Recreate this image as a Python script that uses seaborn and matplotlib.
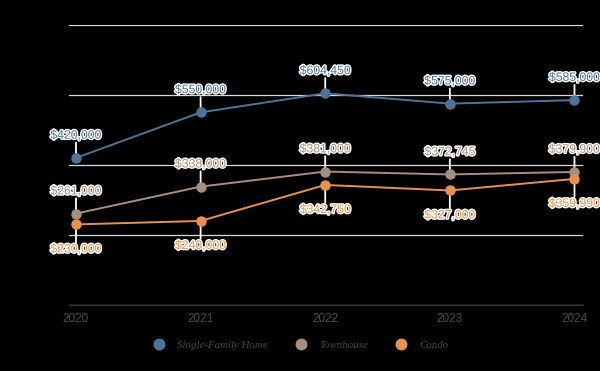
import matplotlib
matplotlib.use("Agg")
import matplotlib.pyplot as plt
import matplotlib.patheffects as pe
import seaborn as sns
import pandas as pd

years = ["2020", "2021", "2022", "2023", "2024"]
single_family = [420000, 550000, 604450, 575000, 585000]
townhouse = [261000, 338000, 381000, 372745, 379900]
condo = [230000, 240000, 342750, 327000, 359990]
series_names = ["Single-Family Home", "Townhouse", "Condo"]
colors = ["#4f7396", "#a68f7f", "#e8914f"]

rows = []
for name, vals in zip(series_names, [single_family, townhouse, condo]):
    for i, (y, v) in enumerate(zip(years, vals)):
        rows.append({"idx": i, "year": y, "value": v, "series": name})
df = pd.DataFrame(rows)

sns.set_theme(style="white")
plt.rcParams["font.family"] = ["Liberation Sans", "DejaVu Sans"]

fig = plt.figure(figsize=(6, 3.71), dpi=100, facecolor="black")
ax = fig.add_axes([0.115, 0.178, 0.857, 0.755])
ax.set_facecolor("black")

palette = dict(zip(series_names, colors))
sns.lineplot(data=df, x="idx", y="value", hue="series", palette=palette,
             marker="o", markersize=7.5, markeredgewidth=0, linewidth=1.4,
             ax=ax, legend=False, zorder=3)

ax.set_xlim(-0.056, 4.07)
ax.set_ylim(0, 800000)
ax.set_yticks([0, 200000, 400000, 600000, 800000])
ax.yaxis.grid(True, color="#d9d9d9", linewidth=0.9)
ax.set_axisbelow(True)
for s in ["top", "right", "left"]:
    ax.spines[s].set_visible(False)
ax.spines["bottom"].set_color("#333333")
ax.spines["bottom"].set_linewidth(0.9)
ax.set_yticklabels([])
ax.tick_params(axis="y", length=0)
ax.set_xticks(range(len(years)))
ax.set_xticklabels(years, color="#4a4a4a", fontsize=8.5)
ax.tick_params(axis="x", length=0, pad=6)
ax.set_xlabel("")
ax.set_ylabel("")

stroke = [pe.withStroke(linewidth=2, foreground="white")]
for name, vals, col in zip(series_names, [single_family, townhouse, condo], colors):
    below = name == "Condo"
    for i, v in enumerate(vals):
        line_off = -13 if below else 11
        text_off = -18 if below else 16
        ax.annotate("", xy=(i, v), xytext=(0, line_off), textcoords="offset points",
                    xycoords="data",
                    arrowprops=dict(arrowstyle="-", color="white", lw=1.3, shrinkA=0, shrinkB=0),
                    zorder=2)
        ax.annotate(f"${v:,.0f}", xy=(i, v), xytext=(0, text_off),
                    textcoords="offset points", ha="center", va="center",
                    fontsize=8.8, color=col, path_effects=stroke, zorder=5)

handles = [plt.Line2D([], [], marker="o", linestyle="", markersize=8.5,
                      markerfacecolor=c, markeredgewidth=0) for c in colors]
leg = fig.legend(handles, series_names, loc="center", bbox_to_anchor=(0.497, 0.07),
                 ncol=3, frameon=False, handletextpad=0.7, columnspacing=2.0,
                 prop={"family": ["Liberation Serif", "DejaVu Serif"], "style": "italic", "size": 7.8})
for t in leg.get_texts():
    t.set_color("#444444")

fig.savefig("out.png", dpi=100, facecolor="black")
